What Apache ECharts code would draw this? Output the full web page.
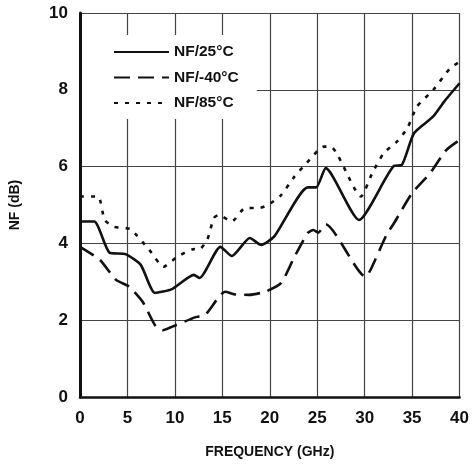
<!DOCTYPE html>
<html>
<head>
<meta charset="utf-8">
<script src="https://cdn.jsdelivr.net/npm/echarts@6/dist/echarts.min.js"></script>
<style>
  html, body { margin: 0; padding: 0; background: #fff; }
  #chart { width: 472px; height: 466px; }
</style>
</head>
<body>
<div id="chart"></div>
<script>
// NF vs frequency
const freq25 = [0, 1.5, 3.1, 4.8, 6.4, 7.9, 9.7, 12.0, 12.6, 14.8, 16.0, 17.9, 19.1, 20.5, 24.0, 24.9, 25.9, 29.4, 33.1, 33.9, 35.2, 37.2, 38.4, 40]
const nf25 = [4.57, 4.57, 3.76, 3.72, 3.44, 2.71, 2.81, 3.18, 3.1, 3.91, 3.67, 4.14, 3.96, 4.19, 5.46, 5.46, 5.96, 4.61, 6.02, 6.04, 6.87, 7.3, 7.7, 8.17]

const freqM40 = [0, 2.1, 3.8, 5.2, 6.6, 8.0, 8.7, 10.1, 12.2, 13.2, 15.3, 16.4, 17.8, 19.5, 21.2, 22.6, 24.0, 24.6, 25.1, 25.9, 30.1, 30.6, 32.3, 33.1, 35.0, 36.9, 38.6, 40]
const nfM40 = [3.91, 3.57, 3.05, 2.87, 2.48, 1.83, 1.74, 1.87, 2.08, 2.14, 2.74, 2.67, 2.66, 2.74, 2.97, 3.65, 4.27, 4.35, 4.28, 4.5, 3.13, 3.3, 4.22, 4.53, 5.31, 5.83, 6.43, 6.69]

const freq85 = [0, 1.9, 2.6, 3.6, 5.3, 7.3, 8.8, 10.2, 12.0, 12.5, 13.4, 14.1, 14.6, 16.0, 17.4, 18.8, 19.8, 21.2, 22.6, 23.7, 25.7, 26.4, 29.6, 30.8, 32.0, 33.4, 34.5, 35.5, 37.2, 39.0, 40]
const nf85 = [5.22, 5.22, 4.61, 4.43, 4.37, 3.83, 3.39, 3.64, 3.85, 3.83, 4.09, 4.66, 4.74, 4.57, 4.92, 4.92, 5.0, 5.26, 5.74, 6.04, 6.52, 6.52, 5.22, 5.83, 6.35, 6.65, 7.0, 7.56, 7.99, 8.56, 8.73]

const seriesNames = ['NF/25°C', 'NF/-40°C', 'NF/85°C']

const font = "'Liberation Sans', Arial, sans-serif"

const pairs = (xs, ys) => xs.map((x, i) => [x, ys[i]])

const lineSeries = (name, data, dash) => ({
    name: name,
    type: 'line',
    data: data,
    showSymbol: false,
    symbol: 'none',
    smooth: 0.2,
    z: 3,
    itemStyle: { color: '#111' },
    lineStyle: { color: '#111', width: 2.6, type: dash }
})

const chart = echarts.init(document.getElementById('chart'))
chart.setOption({
    animation: false,
    backgroundColor: '#fff',
    grid: { left: 80, right: 9, top: 13, bottom: 69, containLabel: false },
    legend: {
        orient: 'vertical',
        left: 82,
        top: 35,
        padding: [9, 18, 8, 31],
        backgroundColor: '#fff',
        itemWidth: 55,
        itemHeight: 14,
        itemGap: 9.5,
        z: 5,
        itemStyle: { opacity: 0 },
        textStyle: { fontFamily: font, fontWeight: 'bold', fontSize: 15.5, color: '#111' },
        data: seriesNames
    },
    xAxis: {
        type: 'value',
        min: 0,
        max: 40,
        interval: 5,
        name: 'FREQUENCY (GHz)',
        nameLocation: 'middle',
        nameGap: 48,
        nameTextStyle: { fontFamily: font, fontWeight: 'bold', fontSize: 14, color: '#111' },
        axisLine: { lineStyle: { color: '#111', width: 2.5 } },
        axisTick: { show: false },
        axisLabel: { margin: 13, fontFamily: font, fontWeight: 'bold', fontSize: 17, color: '#111' },
        splitLine: { show: true, lineStyle: { color: '#444', width: 1.2 } }
    },
    yAxis: {
        type: 'value',
        min: 0,
        max: 10,
        interval: 2,
        name: 'NF (dB)',
        nameLocation: 'middle',
        nameGap: 58,
        nameTextStyle: { fontFamily: font, fontWeight: 'bold', fontSize: 14, color: '#111' },
        axisLine: { lineStyle: { color: '#111', width: 3 } },
        axisTick: { show: false },
        axisLabel: { margin: 12, fontFamily: font, fontWeight: 'bold', fontSize: 17, color: '#111' },
        splitLine: { show: true, lineStyle: { color: '#444', width: 1.2 } }
    },
    series: [
        lineSeries(seriesNames[0], pairs(freq25, nf25), 'solid'),
        lineSeries(seriesNames[1], pairs(freqM40, nfM40), [16, 8]),
        lineSeries(seriesNames[2], pairs(freq85, nf85), [4, 7])
    ]
})
</script>
</body>
</html>
